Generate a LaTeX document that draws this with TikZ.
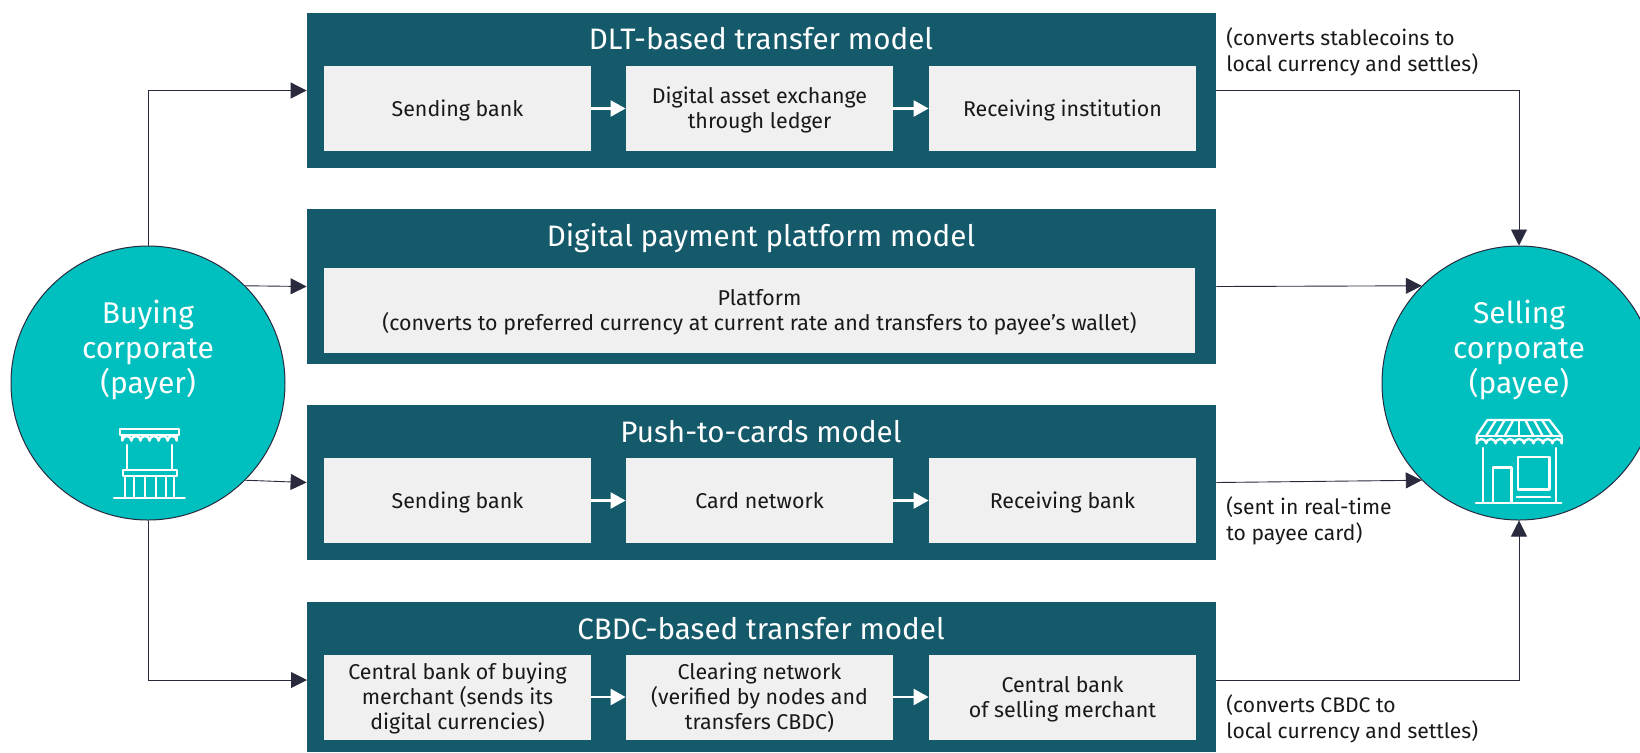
\documentclass[tikz,border=0pt]{standalone}
\usepackage{fontspec}
\setmainfont{Fira Sans}
\usetikzlibrary{arrows.meta}
\definecolor{tealdark}{HTML}{155A6B}
\definecolor{tealbright}{HTML}{00BFBF}
\definecolor{innerbg}{HTML}{F0F0F0}
\definecolor{linecol}{HTML}{2A2A3E}
\tikzset{
  outerbox/.style={fill=tealdark,draw=none,inner sep=0pt,minimum width=454.5pt,minimum height=77.5pt},
  title/.style={text=white,font=\fontsize{14.8}{17}\selectfont,inner sep=0pt,text height=10.6pt,text depth=0pt},
  innerbox/.style={fill=innerbg,draw=none,inner sep=0pt,minimum width=133.5pt,minimum height=42.5pt,align=center,font=\fontsize{10.7}{12.4}\selectfont,text=black!90,text height=7.6pt,text depth=0pt},
  twolines/.style={text height=20pt},
  threelines/.style={text height=32.4pt},
  widebox/.style={innerbox,minimum width=435.5pt},
  party/.style={circle,fill=tealbright,draw=linecol,line width=0.5pt,inner sep=0pt,minimum size=137pt},
  ptext/.style={text=white,align=center,font=\fontsize{15}{17.6}\selectfont,inner sep=0pt,text height=45.8pt,text depth=0pt},
  note/.style={anchor=west,align=left,inner sep=0pt,font=\fontsize{10.55}{13}\selectfont,text=black!90,text height=20.6pt,text depth=0pt},
  conn/.style={draw=linecol,line width=0.45pt,-{Triangle[length=8pt,width=8pt,fill=linecol]}},
  wconn/.style={draw=white,line width=1.2pt,-{Triangle[length=7.5pt,width=8pt,fill=white]}},
  icon/.style={draw=white,line width=1.15pt,line cap=round,line join=round},
}
\begin{document}
\begin{tikzpicture}[x=0.5pt,y=-0.5pt]
\useasboundingbox (0,0) rectangle (1640,752);
\clip (0,0) rectangle (1640,752);
% circles
\node[party] (buy) at (148,383) {};
\node[party] (sell) at (1519,383) {};
\node[ptext] (buytxt) at (148,348) {Buying\\corporate\\(payer)};
\node[ptext] (selltxt) at (1519,348) {Selling\\corporate\\(payee)};
% row boxes
\node[outerbox] (r1) at (761.5,90.5) {};
\node[outerbox] (r2) at (761.5,286.5) {};
\node[outerbox] (r3) at (761.5,482.5) {};
\node[outerbox,minimum height=75pt] (r4) at (761.5,677) {};
\node[title] (t1) at (761,38.7) {DLT-based transfer model};
\node[title] (t2) at (761,235.4) {Digital payment platform model};
\node[title] (t3) at (761,432) {Push-to-cards model};
\node[title] (t4) at (761,628.6) {CBDC-based transfer model};
% inner boxes
\node[innerbox] (a1) at (457.5,108.5) {Sending bank};
\node[innerbox,twolines] (a2) at (759.5,108.5) {Digital asset exchange\\through ledger};
\node[innerbox] (a3) at (1062.5,108.5) {Receiving institution};
\node[widebox,twolines] (b1) at (759.5,310.5) {Platform\\(converts to preferred currency at current rate and transfers to payee’s wallet)};
\node[innerbox] (c1) at (457.5,500.5) {Sending bank};
\node[innerbox] (c2) at (759.5,500.5) {Card network};
\node[innerbox] (c3) at (1062.5,500.5) {Receiving bank};
\node[innerbox,threelines] (d1) at (457.5,697) {Central bank of buying\\merchant (sends its\\digital currencies)};
\node[innerbox,threelines] (d2) at (759.5,697) {Clearing network\\(verified by nodes and\\transfers CBDC)};
\node[innerbox,twolines] (d3) at (1062.5,697) {Central bank\\of selling merchant};
% white connectors
\draw[wconn] (a1) -- (a2);
\draw[wconn] (a2) -- (a3);
\draw[wconn] (c1) -- (c2);
\draw[wconn] (c2) -- (c3);
\draw[wconn] (d1) -- (d2);
\draw[wconn] (d2) -- (d3);
% connectors
\coordinate (d4in) at (307,680);
\coordinate (d4out) at (1216,680);
\draw[conn] (buy.north) |- (r1.west);
\draw[conn] (buy.45) -- (r2.west);
\draw[conn] (buy.-45) -- (r3.west);
\draw[conn] (buy.south) |- (d4in);
\draw[conn] (r1.east) -| (sell.north);
\draw[conn] (r2.east) -- (sell.135);
\draw[conn] (r3.east) -- (sell.225);
\draw[conn] (d4out) -| (sell.south);
% notes
\node[note] (n1) at (1226,51) {(converts stablecoins to\\local currency and settles)};
\node[note] (n3) at (1226,520) {(sent in real-time\\to payee card)};
\node[note] (n4) at (1226,718) {(converts CBDC to\\local currency and settles)};
% left icon
\begin{scope}[shift={(0,230)},x=0.16667pt,y=-0.16667pt,icon]
\draw (360,596) rectangle (538,615);
\draw (367,615) -- (367,632)
  arc[start angle=180,end angle=360,x radius=13.6,y radius=14]
  arc[start angle=180,end angle=360,x radius=13.6,y radius=14]
  arc[start angle=180,end angle=360,x radius=13.6,y radius=14]
  arc[start angle=180,end angle=360,x radius=13.6,y radius=14]
  arc[start angle=180,end angle=360,x radius=13.6,y radius=14]
  arc[start angle=180,end angle=360,x radius=13.6,y radius=14] -- (530,615);
\draw (380,645) -- (380,720) (515,645) -- (515,720);
\draw (368,720) rectangle (530,738);
\foreach \xx in {375,403,435,467,497,523} \draw (\xx,738) -- (\xx,804);
\draw (342,804) -- (554,804);
\end{scope}
% right icon
\begin{scope}[shift={(1340,230)},x=0.16667pt,y=-0.16667pt,icon]
\draw (442,570) -- (628,570) -- (665,618) -- (665,640) (442,570) -- (410,618) -- (410,640);
\draw (410,618) -- (665,618);
\foreach \ta/\ba in {468/438,494/466,520/494,537/537,556/580,582/608,606/637} \draw (\ta,570) -- (\ba,618);
\draw (410,640)
  arc[start angle=180,end angle=360,x radius=14.2,y radius=13]
  arc[start angle=180,end angle=360,x radius=14.2,y radius=13]
  arc[start angle=180,end angle=360,x radius=14.2,y radius=13]
  arc[start angle=180,end angle=360,x radius=14.2,y radius=13]
  arc[start angle=180,end angle=360,x radius=14.2,y radius=13]
  arc[start angle=180,end angle=360,x radius=14.2,y radius=13]
  arc[start angle=180,end angle=360,x radius=14.2,y radius=13]
  arc[start angle=180,end angle=360,x radius=14.2,y radius=13]
  arc[start angle=180,end angle=360,x radius=14.2,y radius=13];
\draw (428,654) -- (428,818) (648,654) -- (648,818);
\draw (408,818) -- (664,818);
\draw (458,818) -- (458,712) -- (514,712) -- (514,818);
\draw (533,680) rectangle (628,778);
\draw (530,800) -- (630,800);
\end{scope}
\end{tikzpicture}
\end{document}
